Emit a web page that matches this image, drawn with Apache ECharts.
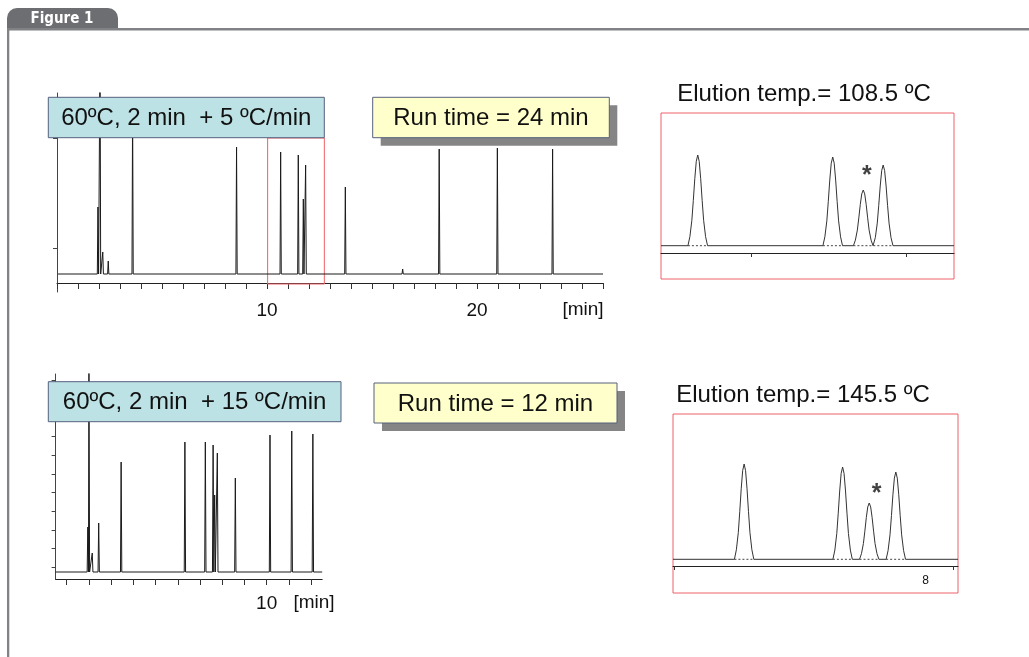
<!DOCTYPE html>
<html>
<head>
<meta charset="utf-8">
<title>Figure 1</title>
<script src="https://cdn.jsdelivr.net/npm/echarts@6.0.0/dist/echarts.min.js"></script>
<style>
  html, body { margin: 0; padding: 0; background: #fff; }
  #chart { width: 1029px; height: 657px; }
</style>
</head>
<body>
<div id="chart"></div>
<script>
// run at 5 ºC/min (24 min): retention time [min] and peak top (detector units)
const slowTimes = [1.95, 2.05, 2.18, 2.44, 3.6, 8.55, 10.65, 11.49, 11.73, 11.84, 13.73, 16.46, 18.2, 20.97, 23.6];
const slowTops = [76, 240, 31, 22, 175, 136, 131, 128, 84, 118, 96, 14, 134, 135, 134];
const slowBase = 9;
const slowWindow = [10.03, 12.73];

// run at 15 ºC/min (12 min)
const fastTimes = [1.95, 2.0, 2.15, 2.44, 3.45, 6.32, 7.24, 7.59, 7.66, 7.78, 8.59, 10.15, 11.13, 12.08];
const fastTops = [52, 240, 26, 56, 117, 137, 137, 134, 84, 126, 101, 144, 148, 145];
const fastBase = 7;

// zoomed windows (the four peaks, * = critical pair)
const slowZoomTimes = [10.658, 11.525, 11.721, 11.849];
const slowZoomTops = [98, 96, 63, 88];
const slowZoomBase = 7.3;
const slowZoomStar = [11.745, 82];

const fastZoomTimes = [7.27, 7.666, 7.773, 7.88];
const fastZoomTops = [102, 99, 63, 94];
const fastZoomBase = 6.7;
const fastZoomStar = [7.803, 77];

// peak outline: offset (share of half width) -> share of height
const profileOffsets = [-1, -0.8, -0.6, -0.45, -0.3, -0.15, 0, 0.15, 0.3, 0.45, 0.6, 0.8, 1];
const profileShares = [0, 0.1, 0.28, 0.5, 0.74, 0.93, 1, 0.93, 0.74, 0.5, 0.28, 0.1, 0];

const chart = echarts.init(document.getElementById('chart'));

function spikeTrace(times, tops, base, from, to) {
  const data = [[from, base]];
  times.forEach((t, i) => {
    data.push([t - 0.03, base], [t, tops[i]], [t + 0.03, base]);
  });
  data.push([to, base]);
  return data;
}

function shapedTrace(times, tops, base, halfWidth, from, to) {
  const data = [[from, base]];
  times.forEach((t, i) => {
    profileOffsets.forEach((o, k) => {
      data.push([t + o * halfWidth, base + (tops[i] - base) * profileShares[k]]);
    });
  });
  data.push([to, base]);
  return data;
}

function dropLines(times, base, halfWidth) {
  const data = [];
  times.forEach((t) => {
    data.push([t - halfWidth, base], [t + halfWidth, base], '-');
  });
  return data;
}

const font = '"Liberation Sans", Arial, sans-serif';
const ink = '#1b1b1b';
const red = '#ee6166';

function box(x, y, w, h, fill, label, shadow) {
  const items = [];
  if (shadow) {
    items.push({ type: 'rect', z: 100, shape: { x: x + 8, y: y + 8, width: w, height: h }, style: { fill: '#858585' } });
  }
  items.push({ type: 'rect', z: 101, shape: { x: x, y: y, width: w, height: h }, style: { fill: fill, stroke: '#56607e', lineWidth: 1 } });
  items.push({
    type: 'text', z: 102, x: x + w / 2, y: y + h / 2 + 1,
    style: { text: label, font: '24px ' + font, fill: '#111', textAlign: 'center', textVerticalAlign: 'middle' }
  });
  return items;
}

function plainText(x, y, label, size) {
  return {
    type: 'text', z: 102, x: x, y: y,
    style: { text: label, font: size + 'px ' + font, fill: '#111', textAlign: 'center', textVerticalAlign: 'middle' }
  };
}

function starSeries(axisIndex, point) {
  return {
    type: 'scatter', xAxisIndex: axisIndex, yAxisIndex: axisIndex, symbolSize: 2,
    itemStyle: { color: 'rgba(0,0,0,0)' },
    label: { show: true, position: 'inside', formatter: '*', fontSize: 25, fontWeight: 'bold', color: '#111', fontFamily: font, offset: [0, 5] },
    data: [point]
  };
}

const mainAxis = {
  type: 'value',
  splitLine: { show: false },
  axisLine: { show: true, onZero: true, lineStyle: { color: '#222', width: 1 } },
  axisTick: { show: true, inside: false, length: 6, lineStyle: { color: '#333' } },
  axisLabel: { color: '#111', fontFamily: font, fontSize: 19 }
};

const option = {
  animation: false,
  backgroundColor: '#fff',
  grid: [
    { left: 57, top: 93, width: 546, height: 199, outerBoundsMode: 'none' },
    { left: 55.6, top: 374, width: 266.6, height: 205, outerBoundsMode: 'none' },
    { left: 661, top: 113, width: 293, height: 166, show: true, borderColor: red, borderWidth: 1, outerBoundsMode: 'none' },
    { left: 673, top: 414, width: 285, height: 179, show: true, borderColor: red, borderWidth: 1, outerBoundsMode: 'none' }
  ],
  xAxis: [
    Object.assign({}, mainAxis, {
      gridIndex: 0, min: 0, max: 26, interval: 1,
      axisLabel: Object.assign({}, mainAxis.axisLabel, { margin: 9, customValues: [10, 20] })
    }),
    Object.assign({}, mainAxis, {
      gridIndex: 1, min: 0.5, max: 12.5,
      axisTick: Object.assign({}, mainAxis.axisTick, { customValues: [1, 2, 3, 4, 5, 6, 7, 8, 9, 10, 11, 12] }),
      axisLabel: Object.assign({}, mainAxis.axisLabel, { margin: 15, customValues: [10] })
    }),
    Object.assign({}, mainAxis, {
      gridIndex: 2, min: 10.422, max: 12.304,
      axisTick: Object.assign({}, mainAxis.axisTick, { length: 4, customValues: [11, 12] }),
      axisLabel: { show: false }
    }),
    Object.assign({}, mainAxis, {
      gridIndex: 3, min: 6.984, max: 8.13,
      axisTick: Object.assign({}, mainAxis.axisTick, { length: 4, customValues: [6.99, 8.11] }),
      axisLabel: { show: true, margin: -18, fontSize: 12, color: '#111', fontFamily: font, customValues: [8] }
    })
  ],
  yAxis: [
    {
      type: 'value', gridIndex: 0, min: -9, max: 190,
      splitLine: { show: false }, axisLabel: { show: false },
      axisLine: { show: true, lineStyle: { color: '#444' } },
      axisTick: { show: true, length: 4, customValues: [35, 145], lineStyle: { color: '#444' } }
    },
    {
      type: 'value', gridIndex: 1, min: 0, max: 205,
      splitLine: { show: false }, axisLabel: { show: false },
      axisLine: { show: true, lineStyle: { color: '#444' } },
      axisTick: { show: true, length: 4, customValues: [12, 31, 49, 68, 87, 105, 124, 143, 162, 180, 199], lineStyle: { color: '#444' } }
    },
    { type: 'value', gridIndex: 2, min: -26, max: 140, show: false },
    { type: 'value', gridIndex: 3, min: -27, max: 152, show: false }
  ],
  series: [
    {
      type: 'line', xAxisIndex: 0, yAxisIndex: 0, symbol: 'none', clip: true,
      lineStyle: { color: ink, width: 1 },
      data: spikeTrace(slowTimes, slowTops, slowBase, 0.05, 26),
      markArea: {
        silent: true, label: { show: false },
        itemStyle: { color: 'rgba(0,0,0,0)', borderColor: red, borderWidth: 1 },
        data: [[{ xAxis: slowWindow[0], yAxis: -1 }, { xAxis: slowWindow[1], yAxis: 145 }]]
      }
    },
    {
      type: 'line', xAxisIndex: 1, yAxisIndex: 1, symbol: 'none', clip: true,
      lineStyle: { color: ink, width: 1 },
      data: spikeTrace(fastTimes, fastTops, fastBase, 0.5, 12.5)
    },
    {
      type: 'line', xAxisIndex: 2, yAxisIndex: 2, symbol: 'none',
      lineStyle: { color: '#333', width: 1 },
      data: shapedTrace(slowZoomTimes, slowZoomTops, slowZoomBase, 0.063, 10.422, 12.304)
    },
    {
      type: 'line', xAxisIndex: 2, yAxisIndex: 2, symbol: 'none', connectNulls: false,
      lineStyle: { color: '#444', width: 1, type: [2, 2] },
      data: dropLines(slowZoomTimes, slowZoomBase, 0.063)
    },
    starSeries(2, slowZoomStar),
    {
      type: 'line', xAxisIndex: 3, yAxisIndex: 3, symbol: 'none',
      lineStyle: { color: '#333', width: 1 },
      data: shapedTrace(fastZoomTimes, fastZoomTops, fastZoomBase, 0.039, 6.984, 8.13)
    },
    {
      type: 'line', xAxisIndex: 3, yAxisIndex: 3, symbol: 'none', connectNulls: false,
      lineStyle: { color: '#444', width: 1, type: [2, 2] },
      data: dropLines(fastZoomTimes, fastZoomBase, 0.039)
    },
    starSeries(3, fastZoomStar)
  ],
  graphic: [
    // page frame with tab
    { type: 'rect', z: 100, shape: { x: 7, y: 8, width: 111, height: 22, r: [10, 10, 0, 0] }, style: { fill: '#6d6e71' } },
    { type: 'rect', z: 100, shape: { x: 7, y: 28, width: 1022, height: 2.4 }, style: { fill: '#808285' } },
    { type: 'rect', z: 100, shape: { x: 7, y: 28, width: 2.3, height: 629 }, style: { fill: '#808285' } },
    {
      type: 'text', z: 102, x: 62, y: 19,
      style: { text: 'Figure 1', font: 'bold 15px "Liberation Sans Narrow", "DejaVu Sans Condensed", sans-serif', fill: '#fff', textAlign: 'center', textVerticalAlign: 'middle' }
    },
    ...box(48.3, 97.3, 276, 40.4, '#bde2e5', '60ºC, 2 min  + 5 ºC/min', false),
    ...box(372.7, 97.3, 236.6, 40.4, '#ffffcc', 'Run time = 24 min', true),
    ...box(48.3, 381.7, 292.7, 40, '#bde2e5', '60ºC, 2 min  + 15 ºC/min', false),
    ...box(374, 383, 243, 40, '#ffffcc', 'Run time = 12 min', true),
    plainText(804, 94, 'Elution temp.= 108.5 ºC', 24),
    plainText(803, 395, 'Elution temp.= 145.5 ºC', 24),
    plainText(583, 310, '[min]', 19),
    plainText(314, 603, '[min]', 19)
  ]
};

chart.setOption(option);
</script>
</body>
</html>
